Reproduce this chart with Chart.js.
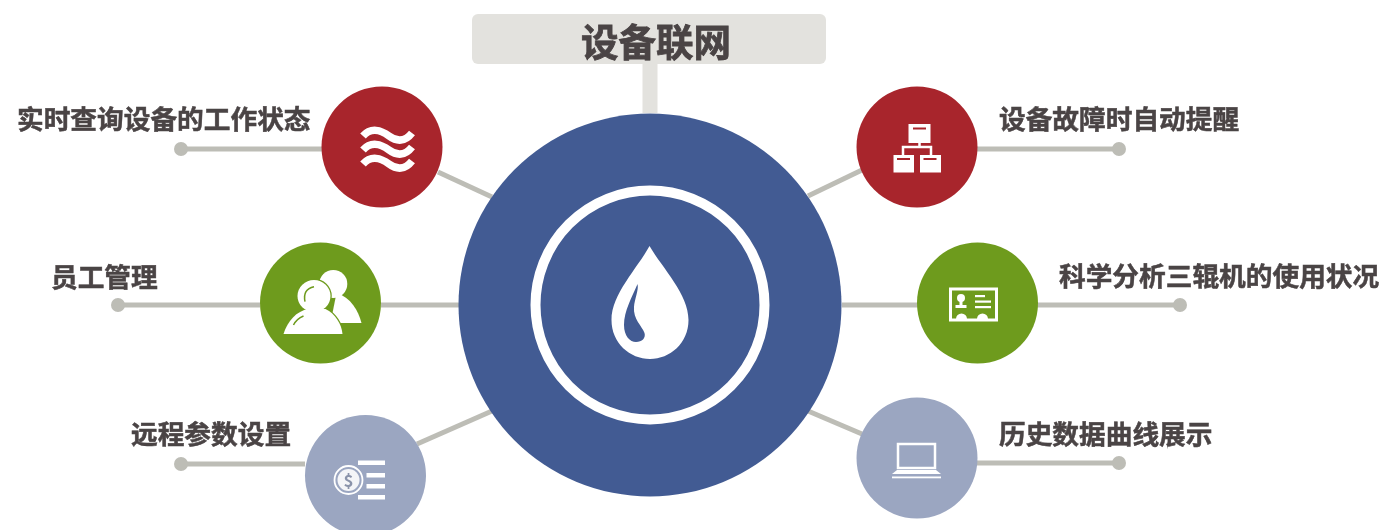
<!DOCTYPE html>
<html lang="zh">
<head>
<meta charset="utf-8">
<title>设备联网</title>
<script src="https://cdn.jsdelivr.net/npm/chart.js@4"></script>
<style>
  html, body { margin: 0; padding: 0; background: #fff; overflow: hidden; }
  #grafico { display: block; filter: blur(0.5px); }
</style>
</head>
<body>
<canvas id="grafico" width="1386" height="530"></canvas>
<script>
// datos

const titulo = '设备联网'
const tituloX = 656
const tituloY = 42

const etiquetas = ['实时查询设备的工作状态', '员工管理', '远程参数设置', '设备故障时自动提醒', '科学分析三辊机的使用状况', '历史数据曲线展示']
const etiquetaX = [17, 51, 131, 999, 1059, 999]
const etiquetaY = [119, 277, 434, 119, 276, 434]

const nodoX = [382, 320.5, 365.5, 917, 977.5, 917]
const nodoY = [147, 303, 475.5, 147, 303, 458]

const centroX = [650]
const centroY = [305]

// guia con punto final: del punto al borde del nodo
const guiaInicioX = [181, 118, 181, 1119, 1180, 1119]
const guiaFinX = [322, 260, 305, 977, 1038, 977]
const guiaY = [149, 305, 464, 149, 305, 463]

// conector entre el nodo y el circulo central
const conectorInicioX = [438, 381, 417, 862, 1038, 862]
const conectorInicioY = [172, 305, 444, 170, 305, 434]
const conectorFinX = [492, 459, 492, 808, 842, 808]
const conectorFinY = [197, 305, 411, 196, 305, 411]

const tallo = { x: [650, 650], y: [64, 113] }

// estilos

const AZUL = '#425b93'
const ROJO = '#a8252c'
const VERDE = '#6e9b1d'
const GRIS = '#9ba6c1'
const LINEA = '#bdbdb6'
const CAJA = '#e3e2de'
const TEXTO = '#4a4445'
const FUENTE = '"Noto Sans CJK SC", "Noto Sans", sans-serif'
const coloresNodo = [ROJO, VERDE, GRIS, ROJO, VERDE, GRIS]

function segmento(x1, y1, x2, y2, color, ancho, radioFinal) {
  return {
    data: [{ x: x1, y: y1 }, { x: x2, y: y2 }],
    showLine: true,
    borderColor: color,
    borderWidth: ancho,
    pointRadius: [radioFinal || 0, 0],
    pointBackgroundColor: color,
    pointBorderWidth: 0,
    order: 5
  }
}

const datasets = []

datasets.push(segmento(tallo.x[0], tallo.y[0], tallo.x[1], tallo.y[1], CAJA, 15))

guiaY.forEach((y, i) => {
  datasets.push(segmento(guiaInicioX[i], y, guiaFinX[i], y, LINEA, 5, 7))
  datasets.push(segmento(conectorInicioX[i], conectorInicioY[i], conectorFinX[i], conectorFinY[i], LINEA, 5))
})

datasets.push({
  data: centroX.map((x, i) => ({ x, y: centroY[i] })),
  pointRadius: 191.5,
  pointBackgroundColor: AZUL,
  pointBorderWidth: 0,
  order: 2
})

datasets.push({
  data: nodoX.map((x, i) => ({ x, y: nodoY[i] })),
  pointRadius: 60.5,
  pointBackgroundColor: coloresNodo,
  pointBorderWidth: 0,
  order: 1
})

// iconos, relativos al centro de cada nodo

function iconoOlas(ctx, cx, cy) {
  ctx.strokeStyle = '#fff'
  ctx.lineWidth = 7.5
  ctx.lineCap = 'butt'
  for (let k = 0; k < 3; k++) {
    const dy = k * 14
    ctx.beginPath()
    ctx.moveTo(cx - 19, cy - 11 + dy)
    ctx.bezierCurveTo(cx - 11, cy - 20 + dy, cx - 1, cy - 17 + dy, cx + 7, cy - 11 + dy)
    ctx.bezierCurveTo(cx + 15, cy - 5 + dy, cx + 23, cy - 5 + dy, cx + 30, cy - 14 + dy)
    ctx.stroke()
  }
}

function iconoPersonas(ctx, cx, cy) {
  ctx.fillStyle = '#fff'
  // persona de atras
  ctx.beginPath()
  ctx.arc(cx + 12.8, cy - 19, 14, 0, Math.PI * 2)
  ctx.fill()
  ctx.beginPath()
  ctx.moveTo(cx + 16, cy - 10)
  ctx.bezierCurveTo(cx + 30, cy - 6, cx + 38, cy + 8, cx + 41, cy + 20)
  ctx.lineTo(cx + 10, cy + 20)
  ctx.closePath()
  ctx.fill()
  // persona de adelante: borde verde solo por fuera
  const cuerpo = new Path2D()
  cuerpo.moveTo(cx - 37, cy + 31)
  cuerpo.bezierCurveTo(cx - 33, cy + 18, cx - 24, cy + 8, cx - 12, cy + 6)
  cuerpo.lineTo(cx + 5, cy + 6)
  cuerpo.bezierCurveTo(cx + 15, cy + 11, cx + 21, cy + 21, cx + 22, cy + 31)
  cuerpo.closePath()
  const cabeza = new Path2D()
  cabeza.ellipse(cx - 6.5, cy - 7, 16.5, 16, 0, 0, Math.PI * 2)
  ctx.strokeStyle = VERDE
  ctx.lineWidth = 2.5
  ctx.stroke(cuerpo)
  ctx.stroke(cabeza)
  ctx.fill(cuerpo)
  ctx.fill(cabeza)
  ctx.lineWidth = 1.5
  ctx.beginPath()
  ctx.moveTo(cx - 6.5, cy - 16.3)
  ctx.quadraticCurveTo(cx - 18, cy - 14, cx - 15.5, cy - 1.3)
  ctx.stroke()
  ctx.beginPath()
  ctx.moveTo(cx - 27, cy + 22)
  ctx.quadraticCurveTo(cx - 24, cy + 16, cx - 17, cy + 13)
  ctx.stroke()
}

function iconoMoneda(ctx, cx, cy) {
  ctx.strokeStyle = '#fff'
  ctx.fillStyle = '#f4f5f8'
  ctx.lineWidth = 1.8
  ctx.beginPath()
  ctx.arc(cx - 17, cy + 4.5, 14, 0, Math.PI * 2)
  ctx.stroke()
  ctx.beginPath()
  ctx.arc(cx - 17, cy + 4.5, 11, 0, Math.PI * 2)
  ctx.fill()
  ctx.fillStyle = '#8a93aa'
  ctx.font = `700 17px ${FUENTE}`
  ctx.textAlign = 'center'
  ctx.textBaseline = 'middle'
  ctx.fillText('$', cx - 17, cy + 5)
  ctx.fillStyle = '#fff'
  ctx.fillRect(cx - 7.5, cy - 15, 27, 4.5)
  ctx.fillRect(cx + 1, cy - 2.5, 18.5, 4.5)
  ctx.fillRect(cx + 1, cy + 8.5, 18.5, 4.5)
  ctx.fillRect(cx - 7.5, cy + 19.5, 27, 4.5)
}

function iconoRed(ctx, cx, cy) {
  ctx.fillStyle = '#fff'
  ctx.strokeStyle = '#fff'
  ctx.lineWidth = 2.5
  const cajas = [[-8.5, -23, 22, 19], [-23.5, 8, 20.5, 17.5], [3, 8, 21, 17.5]]
  cajas.forEach(c => ctx.fillRect(cx + c[0], cy + c[1], c[2], c[3]))
  ctx.beginPath()
  ctx.moveTo(cx + 2.5, cy - 4)
  ctx.lineTo(cx + 2.5, cy)
  ctx.moveTo(cx - 14, cy + 8)
  ctx.lineTo(cx - 14, cy)
  ctx.lineTo(cx + 14, cy)
  ctx.lineTo(cx + 14, cy + 8)
  ctx.stroke()
  ctx.fillStyle = ROJO
  ctx.fillRect(cx - 4, cy - 19.5, 13, 2)
  ctx.fillRect(cx - 20, cy + 11, 13, 2)
  ctx.fillRect(cx + 6.5, cy + 11, 13, 2)
}

function iconoTarjeta(ctx, cx, cy) {
  ctx.strokeStyle = '#fff'
  ctx.fillStyle = '#fff'
  ctx.lineWidth = 3
  ctx.strokeRect(cx - 27, cy - 14, 46, 31)
  ctx.beginPath()
  ctx.arc(cx - 16.5, cy - 5, 4, 0, Math.PI * 2)
  ctx.fill()
  ctx.fillRect(cx - 18, cy - 3, 3, 6)
  ctx.fillRect(cx - 22, cy + 2, 11, 3)
  ctx.beginPath()
  ctx.arc(cx - 16, cy + 16, 5.5, Math.PI, 0)
  ctx.arc(cx + 5, cy + 16, 5.5, Math.PI, 0)
  ctx.fill()
  ctx.fillRect(cx - 2.5, cy - 8, 10, 2.2)
  ctx.fillRect(cx - 2.5, cy - 2.5, 16, 2.2)
  ctx.fillRect(cx - 2.5, cy + 3, 16, 2.2)
}

function iconoLaptop(ctx, cx, cy) {
  ctx.strokeStyle = '#fff'
  ctx.fillStyle = '#fff'
  ctx.lineWidth = 2.5
  ctx.strokeRect(cx - 19, cy - 14, 37, 24)
  ctx.beginPath()
  ctx.moveTo(cx - 20, cy + 12)
  ctx.lineTo(cx + 19, cy + 12)
  ctx.lineTo(cx + 24, cy + 16)
  ctx.lineTo(cx - 25, cy + 16)
  ctx.closePath()
  ctx.fill()
  ctx.fillRect(cx - 25, cy + 18.5, 49, 1.8)
}

function iconoGota(ctx, cx, cy) {
  ctx.fillStyle = '#fff'
  ctx.beginPath()
  ctx.moveTo(cx - 0.5, cy - 59)
  ctx.bezierCurveTo(cx + 13, cy - 36, cx + 38.5, cy - 11, cx + 38.5, cy + 15)
  ctx.bezierCurveTo(cx + 38.5, cy + 38, cx + 20, cy + 54, cx, cy + 54)
  ctx.bezierCurveTo(cx - 20, cy + 54, cx - 38.5, cy + 38, cx - 38.5, cy + 15)
  ctx.bezierCurveTo(cx - 38.5, cy - 11, cx - 13, cy - 36, cx - 0.5, cy - 59)
  ctx.closePath()
  ctx.fill()
  ctx.fillStyle = AZUL
  ctx.beginPath()
  ctx.moveTo(cx - 12.5, cy - 21)
  ctx.bezierCurveTo(cx - 18, cy - 8, cx - 26, cy + 6, cx - 26, cy + 20)
  ctx.bezierCurveTo(cx - 26, cy + 31, cx - 20, cy + 37, cx - 14, cy + 37)
  ctx.bezierCurveTo(cx - 8, cy + 37, cx - 4, cy + 33, cx - 5.5, cy + 28)
  ctx.bezierCurveTo(cx - 8, cy + 21, cx - 17, cy + 14, cx - 16, cy + 2)
  ctx.bezierCurveTo(cx - 15.5, cy - 6, cx - 11, cy - 15, cx - 12.5, cy - 21)
  ctx.closePath()
  ctx.fill()
}

const iconos = [iconoOlas, iconoPersonas, iconoMoneda, iconoRed, iconoTarjeta, iconoLaptop]

// caja del titulo, anillo, iconos y textos

const adornos = {
  id: 'adornos',
  beforeDatasetsDraw(chart) {
    const { ctx, scales: { x, y } } = chart
    ctx.save()
    ctx.fillStyle = CAJA
    ctx.beginPath()
    ctx.roundRect(x.getPixelForValue(472), y.getPixelForValue(14), 354, 50, 6)
    ctx.fill()
    ctx.restore()
  },
  afterDatasetsDraw(chart) {
    const { ctx, scales: { x, y } } = chart
    ctx.save()

    const cx = x.getPixelForValue(centroX[0])
    const cy = y.getPixelForValue(centroY[0])
    ctx.strokeStyle = '#fff'
    ctx.lineWidth = 10
    ctx.beginPath()
    ctx.arc(cx, cy, 114.5, 0, Math.PI * 2)
    ctx.stroke()
    iconoGota(ctx, cx, cy)

    iconos.forEach((dibujar, i) => {
      ctx.save()
      dibujar(ctx, x.getPixelForValue(nodoX[i]), y.getPixelForValue(nodoY[i]))
      ctx.restore()
    })

    // el original tiene la letra algo mas gruesa que la bold
    ctx.fillStyle = TEXTO
    ctx.strokeStyle = TEXTO
    ctx.lineWidth = 0.5
    ctx.textBaseline = 'middle'
    ctx.textAlign = 'left'
    ctx.font = `700 26.7px ${FUENTE}`
    etiquetas.forEach((texto, i) => {
      const px = x.getPixelForValue(etiquetaX[i])
      const py = y.getPixelForValue(etiquetaY[i])
      ctx.fillText(texto, px, py)
      ctx.strokeText(texto, px, py)
    })

    ctx.textAlign = 'center'
    ctx.font = `700 37.5px ${FUENTE}`
    ctx.lineWidth = 0.8
    ctx.fillText(titulo, x.getPixelForValue(tituloX), y.getPixelForValue(tituloY))
    ctx.strokeText(titulo, x.getPixelForValue(tituloX), y.getPixelForValue(tituloY))
    ctx.restore()
  }
}

new Chart(document.getElementById('grafico').getContext('2d'), {
  type: 'scatter',
  data: { datasets },
  options: {
    responsive: false,
    animation: false,
    layout: { padding: 0, autoPadding: false },
    plugins: { legend: { display: false }, tooltip: { enabled: false } },
    scales: {
      x: { type: 'linear', min: 0, max: 1386, display: false },
      y: { type: 'linear', min: 0, max: 530, reverse: true, display: false }
    }
  },
  plugins: [adornos]
})
</script>
</body>
</html>
